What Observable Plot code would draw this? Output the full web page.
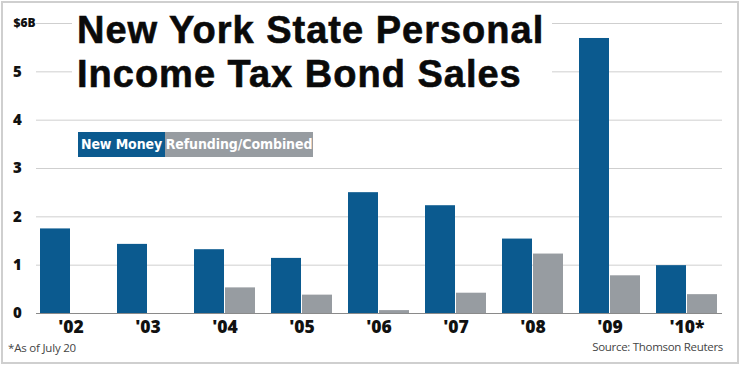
<!DOCTYPE html>
<html>
<head>
<meta charset="utf-8">
<script src="https://cdn.jsdelivr.net/npm/d3@7"></script>
<script src="https://cdn.jsdelivr.net/npm/@observablehq/plot@0.6"></script>
<style>
  html, body { margin: 0; padding: 0; background: #fff; }
  #wrap { position: relative; width: 740px; height: 365px; overflow: hidden; }
  #border { position: absolute; left: 1px; top: 1px; width: 734px; height: 359px; border: 2px solid #cfcfcf; pointer-events: none; }
  #titlebg { position: absolute; left: 72px; top: 8px; width: 480px; height: 92px; background: #fff; }
  .tline { position: absolute; left: 77px; font-family: "Liberation Sans", Arial, sans-serif; font-weight: 700; font-size: 38px;
    line-height: 1; color: #0a0a0a; white-space: nowrap; -webkit-text-stroke: 0.6px #0a0a0a; letter-spacing: 1px; }
  #legend { position: absolute; left: 78px; top: 132px; height: 25px; display: flex;
    font-family: "Liberation Sans Narrow", "DejaVu Sans Condensed", sans-serif; font-stretch: condensed; font-weight: 700; font-size: 14px; color: #fff; letter-spacing: -0.1px; }
  #legend div { height: 25px; line-height: 25px; text-align: center; white-space: nowrap; }
  #note { position: absolute; left: 8px; top: 340px; font-family: "Open Sans", sans-serif; font-size: 11.5px; color: #444; letter-spacing: -0.2px; }
  #source { position: absolute; right: 17px; top: 339px; font-family: "Open Sans", sans-serif; font-size: 11.5px; color: #444; letter-spacing: -0.3px; }
</style>
</head>
<body>
<div id="wrap">
  <div id="chart"></div>
  <div id="titlebg"></div>
  <div class="tline" id="t1" style="top:11px"></div>
  <div class="tline" id="t2" style="top:55px"></div>
  <div id="legend"></div>
  <div id="note"></div>
  <div id="source"></div>
  <div id="border"></div>
</div>
<script>
const years = ["'02", "'03", "'04", "'05", "'06", "'07", "'08", "'09", "'10*"];
const newMoney = [1.75, 1.43, 1.32, 1.14, 2.50, 2.23, 1.54, 5.69, 0.99];
const refunding = [0, 0, 0.53, 0.38, 0.06, 0.42, 1.23, 0.78, 0.39];
const seriesNames = ["New Money", "Refunding/Combined"];
const seriesColors = ["#0b5a8f", "#979ca1"];
const yTicks = [0, 1, 2, 3, 4, 5, 6];
const yTickLabels = ["0", "1", "2", "3", "4", "5", "$6B"];
const titleLines = ["New York State Personal", "Income Tax Bond Sales"];
const noteText = "*As of July 20";
const sourceText = "Source: Thomson Reuters";

const dataNew = years.map((y, i) => ({year: y, value: newMoney[i]}));
const dataRef = years.map((y, i) => ({year: y, value: refunding[i]}));

const W = 740, H = 365;
const mL = 36, mR = 18;
const step = (W - mL - mR) / (years.length - 0.205);
const half = step * (1 - 0.205) / 2;

const chart = Plot.plot({
  width: W,
  height: H,
  marginLeft: mL,
  marginRight: mR,
  marginTop: 23,
  marginBottom: 52,
  style: {background: "transparent", overflow: "visible"},
  x: {domain: years, paddingInner: 0.205, paddingOuter: 0, label: null},
  y: {domain: [0, 6], label: null},
  marks: [
    Plot.ruleY(yTicks.filter(d => d > 0), {stroke: "#cfcfcf", strokeWidth: 1}),
    Plot.barY(dataNew, {x: "year", y: "value", fill: seriesColors[0], insetRight: half, insetLeft: 0}),
    Plot.barY(dataRef, {x: "year", y: "value", fill: seriesColors[1], insetLeft: half, insetRight: 0}),
    Plot.ruleY([0], {stroke: "#8a8a8a", strokeWidth: 1.2}),
    Plot.axisY({ticks: yTicks, tickSize: 0, tickPadding: 19, textAnchor: "middle",
      tickFormat: (d) => yTickLabels[yTicks.indexOf(d)],
      fontSize: 15, fontWeight: 800, fill: "#111", label: null,
      fontFamily: "Open Sans, sans-serif"}),
    Plot.axisX({tickSize: 0, tickPadding: 7, fontSize: 17.5, fontWeight: 800, fill: "#111", label: null,
      fontFamily: "Open Sans, sans-serif"})
  ]
});
document.getElementById("chart").appendChild(chart);

d3.select(chart).selectAll("text").each(function() {
  if (this.textContent === "$6B") d3.select(this).attr("font-size", 12).attr("dx", 7);
});

document.getElementById("t1").textContent = titleLines[0];
document.getElementById("t2").textContent = titleLines[1];
const legend = document.getElementById("legend");
const legendWidths = [87, 148];
seriesNames.forEach((n, i) => {
  const d = document.createElement("div");
  d.textContent = n;
  d.style.background = seriesColors[i];
  d.style.width = legendWidths[i] + "px";
  legend.appendChild(d);
});
document.getElementById("note").textContent = noteText;
document.getElementById("source").textContent = sourceText;
</script>
</body>
</html>
